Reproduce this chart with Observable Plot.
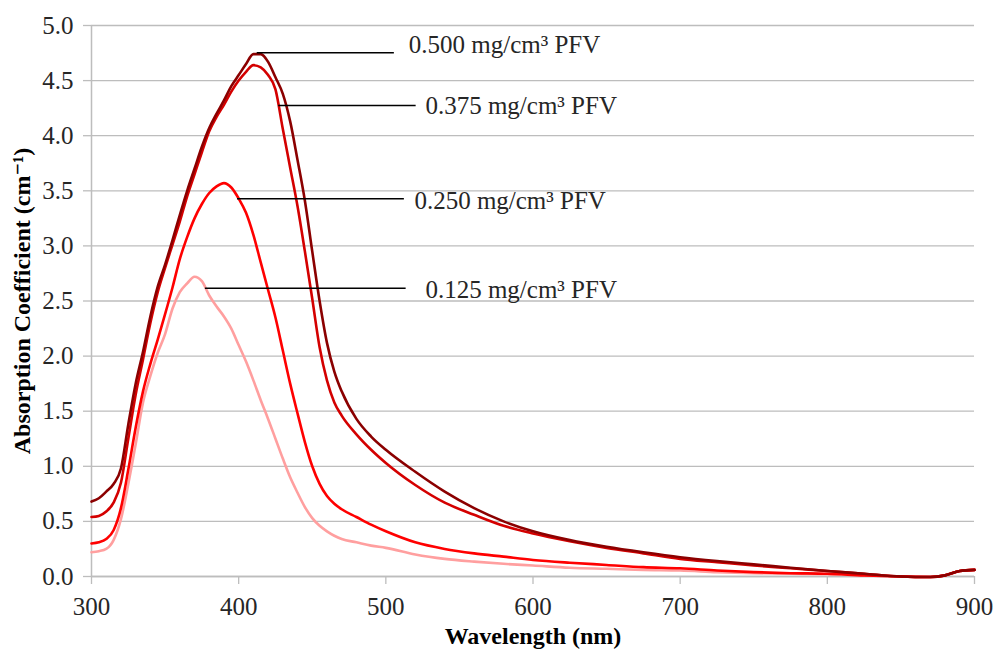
<!DOCTYPE html>
<html>
<head>
<meta charset="utf-8">
<script src="https://cdn.jsdelivr.net/npm/d3@7"></script>
<script src="https://cdn.jsdelivr.net/npm/@observablehq/plot@0.6"></script>
<style>
  html, body { margin: 0; padding: 0; background: #ffffff; }
  #chart { width: 993px; height: 651px; overflow: hidden; }
  #chart svg, #chart svg text { font-family: "Liberation Serif", "DejaVu Serif", serif !important; }
</style>
</head>
<body>
<div id="chart"></div>
<script>
// ---- Data ----
const wavelengths = [300, 305, 310, 315, 320, 325, 330, 335, 340, 345, 350, 355, 360, 365, 370, 375, 380, 385, 390, 395, 400, 405, 410, 415, 420, 425, 430, 435, 440, 445, 450, 455, 460, 465, 470, 480, 490, 500, 520, 540, 560, 580, 600, 625, 650, 675, 700, 725, 750, 775, 800, 825, 850, 870, 880, 890, 900];

const pfv500 = [0.68, 0.71, 0.77, 0.84, 0.98, 1.38, 1.75, 2.04, 2.36, 2.63, 2.83, 3.05, 3.28, 3.50, 3.70, 3.90, 4.07, 4.20, 4.32, 4.45, 4.55, 4.65, 4.74, 4.74, 4.67, 4.53, 4.38, 4.13, 3.78, 3.41, 2.95, 2.50, 2.12, 1.86, 1.68, 1.43, 1.27, 1.15, 0.95, 0.77, 0.62, 0.50, 0.41, 0.33, 0.27, 0.22, 0.175, 0.14, 0.11, 0.08, 0.05, 0.025, 0.0, -0.005, 0.01, 0.05, 0.06];

const pfv375 = [0.54, 0.55, 0.59, 0.67, 0.85, 1.25, 1.65, 1.97, 2.30, 2.58, 2.80, 3.01, 3.22, 3.45, 3.65, 3.85, 4.04, 4.17, 4.28, 4.40, 4.50, 4.58, 4.64, 4.62, 4.55, 4.42, 4.06, 3.71, 3.36, 2.95, 2.52, 2.08, 1.78, 1.58, 1.46, 1.29, 1.15, 1.03, 0.83, 0.67, 0.56, 0.46, 0.39, 0.32, 0.26, 0.21, 0.16, 0.13, 0.10, 0.075, 0.05, 0.025, 0.0, -0.005, 0.01, 0.05, 0.06];

const pfv250 = [0.30, 0.31, 0.34, 0.42, 0.62, 0.97, 1.35, 1.68, 1.93, 2.15, 2.38, 2.62, 2.88, 3.08, 3.25, 3.38, 3.48, 3.54, 3.57, 3.53, 3.43, 3.30, 3.10, 2.85, 2.60, 2.35, 2.05, 1.75, 1.48, 1.22, 1.00, 0.84, 0.73, 0.66, 0.61, 0.54, 0.47, 0.41, 0.31, 0.25, 0.21, 0.18, 0.15, 0.125, 0.105, 0.085, 0.075, 0.055, 0.04, 0.03, 0.025, 0.01, 0.0, -0.005, 0.01, 0.05, 0.06];

const pfv125 = [0.22, 0.23, 0.25, 0.33, 0.52, 0.84, 1.20, 1.58, 1.82, 2.03, 2.20, 2.43, 2.58, 2.66, 2.72, 2.68, 2.55, 2.45, 2.36, 2.25, 2.10, 1.95, 1.78, 1.60, 1.43, 1.25, 1.07, 0.90, 0.76, 0.63, 0.53, 0.46, 0.41, 0.37, 0.34, 0.31, 0.28, 0.26, 0.20, 0.16, 0.135, 0.115, 0.10, 0.08, 0.07, 0.06, 0.055, 0.04, 0.03, 0.025, 0.02, 0.01, 0.0, -0.005, 0.01, 0.05, 0.06];

const seriesNames = ["0.125 mg/cm³ PFV", "0.250 mg/cm³ PFV", "0.375 mg/cm³ PFV", "0.500 mg/cm³ PFV"];
const seriesValues = [pfv125, pfv250, pfv375, pfv500];
const seriesColors = ["#ff9f9f", "#ff0000", "#d40000", "#8b0000"];

const xTicks = [300, 400, 500, 600, 700, 800, 900];
const yTicks = [0, 0.5, 1, 1.5, 2, 2.5, 3, 3.5, 4, 4.5, 5];

const xTitle = "Wavelength (nm)";
const yTitle = "Absorption Coefficient (cm⁻¹)";

// Annotation labels with leader lines (in data units)
const labelText   = ["0.500 mg/cm³ PFV", "0.375 mg/cm³ PFV", "0.250 mg/cm³ PFV", "0.125 mg/cm³ PFV"];
const leaderStart = [412.6, 427.2, 399.2, 377.4];
const leaderEnd   = [505.8, 520.6, 512.6, 513.8];
const leaderY     = [4.752, 4.274, 3.427, 2.616];
const labelX      = [515.6, 526.9, 519.4, 526.9];
const labelY      = [4.82, 4.27, 3.41, 2.60];

// ---- Build tables ----
const table = [];
seriesNames.forEach((name, i) => {
  wavelengths.forEach((w, j) => table.push({series: name, wl: w, v: seriesValues[i][j]}));
});
const annotations = labelText.map((t, i) => ({
  text: t, x1: leaderStart[i], x2: leaderEnd[i], y: leaderY[i], tx: labelX[i], ty: labelY[i]
}));

const gridColor = "#bdbdbd";
const textColor = "#262626";
const font = "Liberation Serif, DejaVu Serif, serif";

const chart = Plot.plot({
  width: 993,
  height: 651,
  marginTop: 25,
  marginRight: 19,
  marginBottom: 75,
  marginLeft: 91,
  style: {fontFamily: font, fontSize: "25px", color: textColor, background: "#ffffff"},
  x: {domain: [300, 900]},
  y: {domain: [0, 5]},
  color: {domain: seriesNames, range: seriesColors},
  marks: [
    Plot.gridY(yTicks, {stroke: gridColor, strokeOpacity: 1, strokeWidth: 1.3}),
    Plot.axisY(yTicks, {tickSize: 8, tickPadding: 10, tickFormat: d3.format(".1f"), stroke: gridColor, strokeOpacity: 1, strokeWidth: 1.3, fontSize: 25, fontFamily: font, fill: textColor, label: null}),
    Plot.axisX(xTicks, {tickSize: 8, tickPadding: 13, tickFormat: d3.format("d"), stroke: gridColor, strokeOpacity: 1, strokeWidth: 1.3, fontSize: 25, fontFamily: font, fill: textColor, label: null}),
    Plot.ruleX([300], {stroke: gridColor, strokeWidth: 1.5}),
    Plot.ruleY([0], {stroke: gridColor, strokeWidth: 1.5}),
    Plot.line(table, {x: "wl", y: "v", z: "series", stroke: "series", strokeWidth: 2.6, curve: "monotone-x"}),
    Plot.ruleY(annotations, {y: "y", x1: "x1", x2: "x2", stroke: "#000000", strokeWidth: 1.5}),
    Plot.text(annotations, {x: "tx", y: "ty", text: "text", textAnchor: "start", fontSize: 25, fontFamily: font, fill: textColor}),
    Plot.text([yTitle], {frameAnchor: "left", dx: -69, rotate: -90, textAnchor: "middle", lineAnchor: "middle", fontSize: 24, fontFamily: font, fontWeight: "bold", fill: "#000000"}),
    Plot.text([xTitle], {frameAnchor: "bottom", dy: 60, textAnchor: "middle", lineAnchor: "middle", fontSize: 24, fontFamily: font, fontWeight: "bold", fill: "#000000"})
  ]
});

document.getElementById("chart").appendChild(chart);
</script>
</body>
</html>
